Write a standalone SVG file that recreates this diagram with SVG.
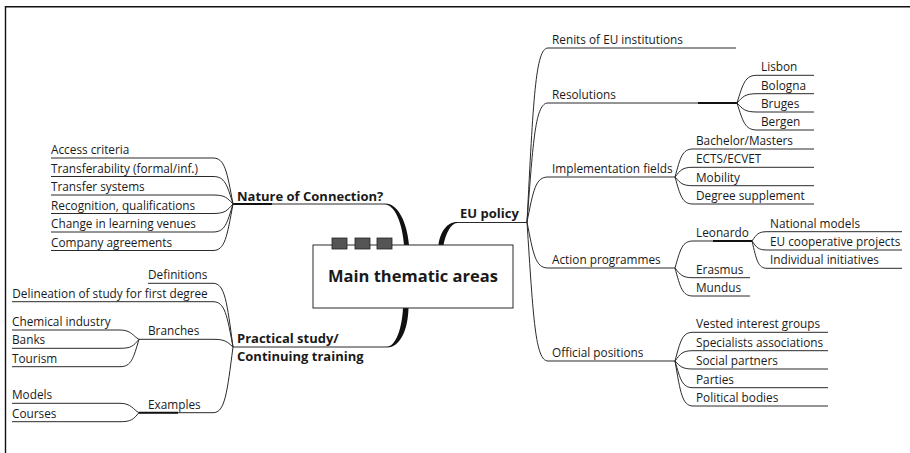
<svg xmlns="http://www.w3.org/2000/svg" width="910" height="453" viewBox="0 0 910 453">
  <style>
    .t { font-family: "Open Sans", "Liberation Sans", sans-serif; font-size: 11.8px; fill: #1a1a1a; }
    .b { font-family: "Open Sans", "Liberation Sans", sans-serif; font-size: 13px; font-weight: bold; fill: #1a1a1a; }
    .title { font-family: "Open Sans", "Liberation Sans", sans-serif; font-size: 16.5px; font-weight: bold; fill: #1a1a1a; }
    .ln { fill: none; stroke: #2a2a2a; stroke-width: 1; }
    .hub { fill: none; stroke: #111; stroke-width: 2; }
    .trunk { fill: #111; stroke: none; }
    .frame { fill: none; stroke: #111; stroke-width: 1.4; }
    .box { fill: #fff; stroke: #2a2a2a; stroke-width: 1; }
    .tab { fill: #555; stroke: #222; stroke-width: 0.8; }
  </style>

  <!-- page frame -->
  <path class="frame" d="M5.5,453 V6.7 H910"/>

  <!-- connectors -->
  <g id="connectors">
    <!-- tapered trunks from the central topic -->
    <path class="trunk" d="M385,203.5 C398,203.5 407,222 409,245 L404,245 C402.5,224 395,204.5 385,204.5 Z"/>
    <path class="trunk" d="M457,222 C447,222 440,232 438.5,245 L443.5,245 C445.5,234 451,223 457,223 Z"/>
    <path class="trunk" d="M387,347.5 C400,347.5 408,330 408.5,308 L403,308 C402,328 396,346.5 387,346.5 Z"/>

    <!-- underlines of main topics -->
    <path class="ln" d="M233,204 H385"/>
    <path class="hub" d="M233,204 H272"/>
    <path class="ln" d="M457,222.5 H527"/>
    <path class="ln" d="M233,347 H387"/>

    <!-- EU policy branches -->
    <path class="ln" d="M527,222 C533.3,100.2 535.4,48 548,48 H736"/>
    <path class="ln" d="M527,222 C533.3,138.7 535.4,103 548,103 H737"/>
    <path class="hub" d="M698,103 H737"/>
    <path class="ln" d="M527,222 C533.3,190.5 535.4,177 548,177 H675"/>
    <path class="ln" d="M527,222 C533.3,254.2 535.4,268 548,268 H675"/>
    <path class="ln" d="M527,222 C533.3,319.3 535.4,361 548,361 H675"/>

    <!-- Resolutions -->
    <path class="ln" d="M737,103 C743,83.6 745,75.3 757,75.3 H814"/>
    <path class="ln" d="M737,103 C743,96.5 745,93.7 757,93.7 H814"/>
    <path class="ln" d="M737,103 C743,109.3 745,112 757,112 H814"/>
    <path class="ln" d="M737,103 C743,121.9 745,130 757,130 H814"/>

    <!-- Implementation fields -->
    <path class="ln" d="M675,177 C680.4,157.4 682.2,149 693,149 H814"/>
    <path class="ln" d="M675,177 C680.4,170.2 682.2,167.3 693,167.3 H814"/>
    <path class="ln" d="M675,177 C680.4,183.1 682.2,185.7 693,185.7 H814"/>
    <path class="ln" d="M675,177 C680.4,195.9 682.2,204 693,204 H814"/>

    <!-- Action programmes -->
    <path class="ln" d="M675,268 C680.4,249.1 682.2,241 693,241 H752"/>
    <path class="hub" d="M713,241 H752"/>
    <path class="ln" d="M675,268 C680.4,274.8 682.2,277.7 693,277.7 H750"/>
    <path class="ln" d="M675,268 C680.4,287.6 682.2,296 693,296 H750"/>

    <!-- Leonardo -->
    <path class="ln" d="M752,241 C756.5,234.5 758,231.7 767,231.7 H902"/>
    <path class="ln" d="M752,241 C756.5,247.3 758,250 767,250 H902"/>
    <path class="ln" d="M752,241 C756.5,260.1 758,268.3 767,268.3 H902"/>

    <!-- Official positions -->
    <path class="ln" d="M675,361 C680.4,340.9 682.2,332.3 693,332.3 H828"/>
    <path class="ln" d="M675,361 C680.4,353.8 682.2,350.7 693,350.7 H828"/>
    <path class="ln" d="M675,361 C680.4,366.6 682.2,369 693,369 H828"/>
    <path class="ln" d="M675,361 C680.4,379.7 682.2,387.7 693,387.7 H828"/>
    <path class="ln" d="M675,361 C680.4,392.5 682.2,406 693,406 H828"/>

    <!-- Nature of Connection? -->
    <path class="ln" d="M233,204 C227,171.8 225,158 213,158 H51"/>
    <path class="ln" d="M233,204 C227,184.8 225,176.5 213,176.5 H51"/>
    <path class="ln" d="M233,204 C227,197.7 225,195 213,195 H51"/>
    <path class="ln" d="M233,204 C227,210.7 225,213.5 213,213.5 H51"/>
    <path class="ln" d="M233,204 C227,223.6 225,232 213,232 H51"/>
    <path class="ln" d="M233,204 C227,236.6 225,250.5 213,250.5 H51"/>

    <!-- Practical study / Continuing training -->
    <path class="ln" d="M233,347 C227,302.4 225,283.3 213,283.3 H148"/>
    <path class="ln" d="M233,347 C227,315.3 225,301.7 213,301.7 H12"/>
    <path class="ln" d="M233,347 C227,341.6 225,339.3 213,339.3 H139"/>
    <path class="ln" d="M233,347 C227,393.3 225,412.7 213,412.7 H139"/>
    <path class="hub" d="M139,412.7 H178"/>

    <!-- Branches -->
    <path class="ln" d="M139,339.3 C133.3,336.5 131.4,330 120,330 H12"/>
    <path class="ln" d="M139,339.3 C133.3,346 131.4,348.3 120,348.3 H12"/>
    <path class="ln" d="M139,339.3 C133.3,358.5 131.4,366.7 120,366.7 H12"/>

    <!-- Examples -->
    <path class="ln" d="M139,412.7 C133.3,409.9 131.4,403.3 120,403.3 H12"/>
    <path class="ln" d="M139,412.7 C133.3,419.4 131.4,421.7 120,421.7 H12"/>
  </g>

  <!-- central topic -->
  <g id="main">
    <rect class="box" x="313" y="245" width="200" height="63"/>
    <rect class="tab" x="332" y="238" width="15" height="11"/>
    <rect class="tab" x="355" y="238" width="15" height="11"/>
    <rect class="tab" x="377" y="238" width="15" height="11"/>
    <text class="title" x="413" y="282" text-anchor="middle">Main thematic areas</text>
  </g>

  <!-- main topics -->
  <g id="nature"><text class="b" x="237" y="200.5">Nature of Connection?</text></g>
  <g id="eu-policy"><text class="b" x="460" y="218">EU policy</text></g>
  <g id="practical">
    <text class="b" x="237" y="342.5">Practical study/</text>
    <text class="b" x="237" y="360.5">Continuing training</text>
  </g>

  <!-- EU policy subtopics -->
  <g id="renits"><text class="t" x="552" y="43.5">Renits of EU institutions</text></g>
  <g id="resolutions"><text class="t" x="552" y="98.5">Resolutions</text></g>
  <g id="lisbon"><text class="t" x="761" y="71.3">Lisbon</text></g>
  <g id="bologna"><text class="t" x="761" y="89.7">Bologna</text></g>
  <g id="bruges"><text class="t" x="761" y="108">Bruges</text></g>
  <g id="bergen"><text class="t" x="761" y="126.3">Bergen</text></g>
  <g id="implementation"><text class="t" x="552" y="172.7">Implementation fields</text></g>
  <g id="bachelor"><text class="t" x="696" y="145">Bachelor/Masters</text></g>
  <g id="ects"><text class="t" x="696" y="163.3">ECTS/ECVET</text></g>
  <g id="mobility"><text class="t" x="696" y="181.7">Mobility</text></g>
  <g id="degree"><text class="t" x="696" y="200">Degree supplement</text></g>
  <g id="action"><text class="t" x="552" y="264">Action programmes</text></g>
  <g id="leonardo"><text class="t" x="696" y="236.7">Leonardo</text></g>
  <g id="national"><text class="t" x="770" y="227.7">National models</text></g>
  <g id="eu-coop"><text class="t" x="770" y="246">EU cooperative projects</text></g>
  <g id="individual"><text class="t" x="770" y="264.3">Individual initiatives</text></g>
  <g id="erasmus"><text class="t" x="696" y="273.7">Erasmus</text></g>
  <g id="mundus"><text class="t" x="696" y="292">Mundus</text></g>
  <g id="official"><text class="t" x="552" y="356.7">Official positions</text></g>
  <g id="vested"><text class="t" x="696" y="328.3">Vested interest groups</text></g>
  <g id="specialists"><text class="t" x="696" y="346.7">Specialists associations</text></g>
  <g id="social"><text class="t" x="696" y="365">Social partners</text></g>
  <g id="parties"><text class="t" x="696" y="383.7">Parties</text></g>
  <g id="political"><text class="t" x="696" y="402">Political bodies</text></g>

  <!-- Nature of Connection? subtopics -->
  <g id="access"><text class="t" x="51" y="154">Access criteria</text></g>
  <g id="transferability"><text class="t" x="51" y="172.5">Transferability (formal/inf.)</text></g>
  <g id="transfer-systems"><text class="t" x="51" y="191">Transfer systems</text></g>
  <g id="recognition"><text class="t" x="51" y="209.5">Recognition, qualifications</text></g>
  <g id="venues"><text class="t" x="51" y="228">Change in learning venues</text></g>
  <g id="company"><text class="t" x="51" y="246.5">Company agreements</text></g>

  <!-- Practical study subtopics -->
  <g id="definitions"><text class="t" x="148" y="279.3">Definitions</text></g>
  <g id="delineation"><text class="t" x="12.3" y="297.7">Delineation of study for first degree</text></g>
  <g id="branches"><text class="t" x="148" y="335.3">Branches</text></g>
  <g id="chemical"><text class="t" x="12" y="326">Chemical industry</text></g>
  <g id="banks"><text class="t" x="12" y="344.3">Banks</text></g>
  <g id="tourism"><text class="t" x="12" y="362.7">Tourism</text></g>
  <g id="examples"><text class="t" x="148" y="408.7">Examples</text></g>
  <g id="models"><text class="t" x="12" y="399.3">Models</text></g>
  <g id="courses"><text class="t" x="12" y="417.7">Courses</text></g>
</svg>
